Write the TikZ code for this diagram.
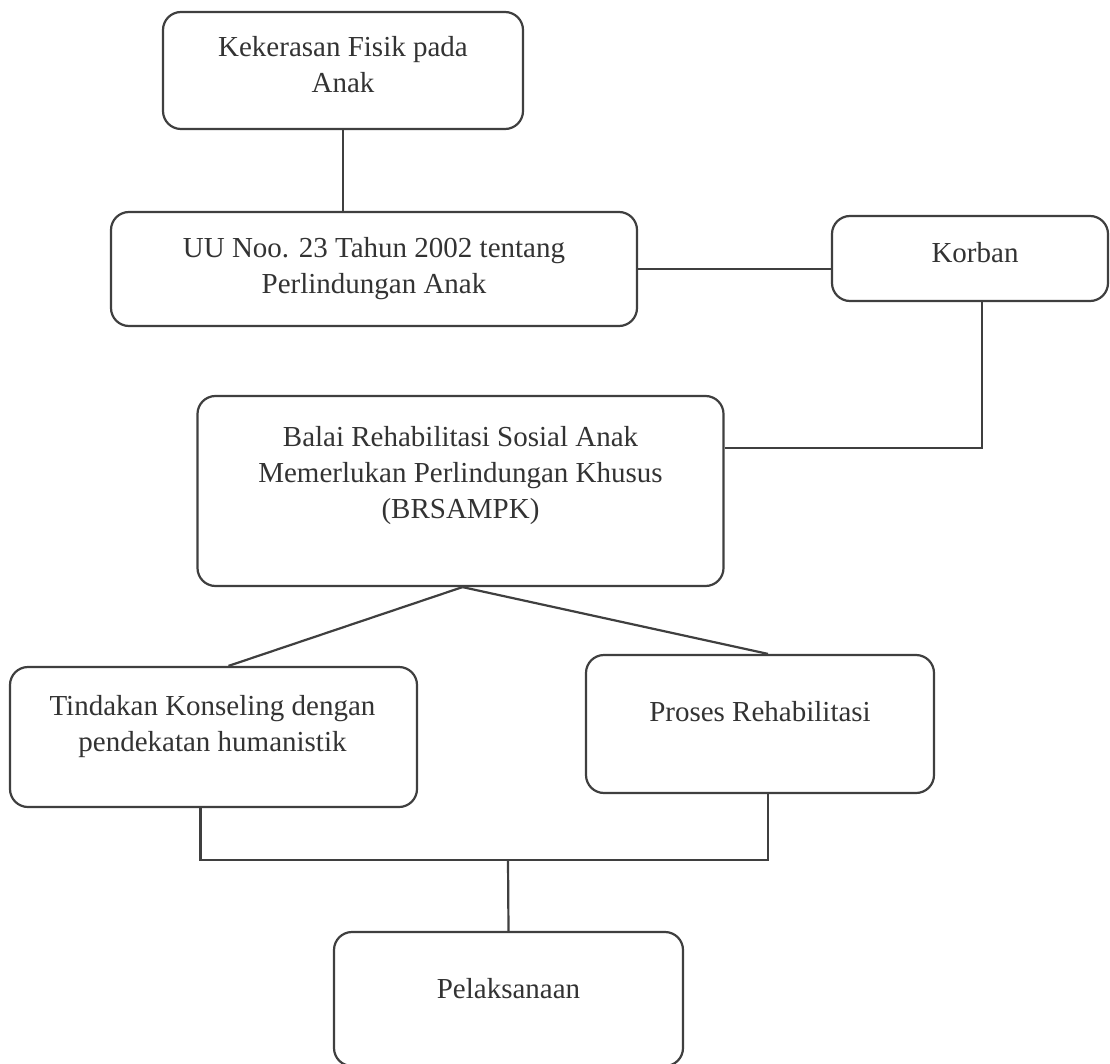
\documentclass[tikz,border=0pt]{standalone}
\usepackage{fontspec}
\setmainfont{Liberation Serif}
\usepackage{tikz}
\usetikzlibrary{calc}

\definecolor{linegray}{HTML}{3F3F3F}
\definecolor{textgray}{HTML}{333333}

\tikzset{
  box/.style={draw=linegray, line width=2.2pt, rounded corners=18pt, inner sep=0pt, fill=white},
  txt/.style={text=textgray, align=center, inner sep=0pt, anchor=base,
    font=\fontsize{29}{36}\selectfont},
  link/.style={draw=linegray, line width=2.2pt}
}

\begin{document}
\begin{tikzpicture}[x=1pt,y=-1pt]
  \useasboundingbox (0,0) rectangle (1110,1064);
  % boxes
  \node[box, minimum width=360pt, minimum height=117pt] (kekerasan) at (343,70.5) {};
  \node[box, minimum width=526pt, minimum height=114pt] (uu) at (374,269) {};
  \node[box, minimum width=276pt, minimum height=85pt] (korban) at (970,258.5) {};
  \node[box, minimum width=526pt, minimum height=190pt] (balai) at (460.5,491) {};
  \node[box, minimum width=407pt, minimum height=140pt] (tindakan) at (213.5,737) {};
  \node[box, minimum width=348pt, minimum height=138pt] (proses) at (760,724) {};
  \node[box, minimum width=349pt, minimum height=134pt] (pelaksanaan) at (508.5,999) {};
  % texts (base = last line)
  \node[txt] (kekerasan-txt) at ([yshift=-82pt]kekerasan.north) {Kekerasan Fisik pada\\Anak};
  \node[txt] (uu-txt) at ([yshift=-83pt]uu.north) {UU Noo. 23 Tahun 2002 tentang\\Perlindungan Anak};
  \node[txt] (korban-txt) at ([yshift=-48pt,xshift=5pt]korban.north) {Korban};
  \node[txt] (balai-txt) at ([yshift=-124pt]balai.north) {Balai Rehabilitasi Sosial Anak\\Memerlukan Perlindungan Khusus\\(BRSAMPK)};
  \node[txt] (tindakan-txt) at ([yshift=-86pt,xshift=-1pt]tindakan.north) {Tindakan Konseling dengan\\pendekatan humanistik};
  \node[txt] (proses-txt) at ([yshift=-68pt]proses.north) {Proses Rehabilitasi};
  \node[txt] (pelaksanaan-txt) at ([yshift=-68pt]pelaksanaan.north) {Pelaksanaan};
  % connectors
  \coordinate (korban-out) at ([xshift=12pt]korban.south);
  \coordinate (balai-in) at ([yshift=43pt]balai.east);
  \coordinate (merge) at (508,860);
  \draw[link] (kekerasan.south) -- (kekerasan.south |- uu.north);
  \draw[link] (uu.east) -- (uu.east -| korban.west);
  \draw[link] (korban-out) |- (balai-in);
  \draw[link] ([xshift=2pt]balai.south) -- ([xshift=15pt]tindakan.north);
  \draw[link] ([xshift=2pt]balai.south) -- ([xshift=8pt]proses.north);
  \draw[link] ([xshift=-13pt]tindakan.south) |- (merge) -| ([xshift=8pt]proses.south);
  \draw[link] (merge) -- (pelaksanaan.north);
\end{tikzpicture}
\end{document}
